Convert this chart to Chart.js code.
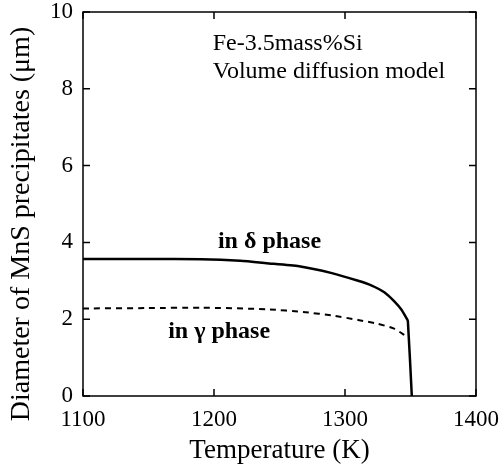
<!DOCTYPE html>
<html>
<head>
<meta charset="utf-8">
<script src="https://cdn.jsdelivr.net/npm/chart.js@4.4.0/dist/chart.umd.min.js"></script>
<style>
  html, body { margin: 0; padding: 0; background: #fff; }
  #wrap { width: 504px; height: 466px; }
</style>
</head>
<body>
<div id="wrap"><canvas id="mns"></canvas></div>
<script>
// temperatures (K) and diameters (um)
const deltaTemp = [1100, 1150, 1190, 1220, 1240, 1265, 1290, 1310, 1320, 1330, 1338, 1343, 1347, 1348, 1351];
const deltaDiam = [3.57, 3.57, 3.56, 3.52, 3.46, 3.38, 3.2, 3.0, 2.88, 2.7, 2.45, 2.25, 2.02, 1.95, 0];
const gammaTemp = [1100, 1150, 1190, 1240, 1270, 1290, 1310, 1325, 1337, 1344, 1348];
const gammaDiam = [2.28, 2.29, 2.3, 2.26, 2.18, 2.1, 1.98, 1.88, 1.76, 1.62, 1.52];
const xTicks = [1100, 1200, 1300, 1400];
const yTicks = [0, 2, 4, 6, 8, 10];

const serif = '"Liberation Serif", "DejaVu Serif", serif';

const toPoints = (xs, ys) => xs.map((x, i) => ({ x: x, y: ys[i] }));

// box + inward ticks on all four sides, annotations, y title
const frame = {
    id: 'frame',
    afterDraw(chart) {
        const { ctx, chartArea: a, scales: { x, y } } = chart;
        ctx.save();
        ctx.strokeStyle = '#000';
        ctx.lineWidth = 1.5;
        ctx.strokeRect(a.left, a.top, a.right - a.left, a.bottom - a.top);
        ctx.beginPath();
        xTicks.forEach(v => {
            const px = x.getPixelForValue(v);
            ctx.moveTo(px, a.bottom); ctx.lineTo(px, a.bottom - 7);
            ctx.moveTo(px, a.top); ctx.lineTo(px, a.top + 7);
        });
        yTicks.forEach(v => {
            const py = y.getPixelForValue(v);
            ctx.moveTo(a.left, py); ctx.lineTo(a.left + 7, py);
            ctx.moveTo(a.right, py); ctx.lineTo(a.right - 7, py);
        });
        ctx.stroke();

        ctx.fillStyle = '#000';
        ctx.textBaseline = 'middle';
        ctx.textAlign = 'left';
        ctx.font = '24px ' + serif;
        ctx.fillText('Fe-3.5mass%Si', x.getPixelForValue(1199), y.getPixelForValue(9.17));
        ctx.fillText('Volume diffusion model', x.getPixelForValue(1199), y.getPixelForValue(8.44));
        ctx.font = 'bold 24px ' + serif;
        ctx.fillText('in \u03b4 phase', x.getPixelForValue(1203), y.getPixelForValue(4.02));
        ctx.fillText('in \u03b3 phase', x.getPixelForValue(1165), y.getPixelForValue(1.67));

        // y axis title, sits a little below the plot's middle in the original
        ctx.translate(22, (a.top + a.bottom) / 2 + 20);
        ctx.rotate(-Math.PI / 2);
        ctx.textAlign = 'center';
        ctx.font = '28px ' + serif;
        ctx.fillText('Diameter of MnS precipitates (\u03bcm)', 0, 0);
        ctx.restore();
    }
};

new Chart(document.getElementById('mns'), {
    type: 'scatter',
    data: {
        datasets: [{
            label: 'in delta phase',
            data: toPoints(deltaTemp, deltaDiam),
            showLine: true,
            borderColor: '#000',
            borderWidth: 2.5,
            pointRadius: 0,
            tension: 0.2
        }, {
            label: 'in gamma phase',
            data: toPoints(gammaTemp, gammaDiam),
            showLine: true,
            borderColor: '#000',
            borderWidth: 2,
            borderDash: [6, 5],
            pointRadius: 0,
            tension: 0.2
        }]
    },
    options: {
        responsive: true,
        maintainAspectRatio: false,
        animation: false,
        layout: { padding: { top: 12, right: 28, left: 0, bottom: 0 } },
        plugins: { legend: { display: false }, tooltip: { enabled: false } },
        scales: {
            x: {
                type: 'linear',
                min: 1100,
                max: 1400,
                afterFit(s) {
                    s.height = 70;
                    s.paddingLeft = 0;
                    s.paddingRight = 0;
                },
                afterBuildTicks(s) { s.ticks = xTicks.map(v => ({ value: v })); },
                grid: { display: false, drawTicks: false },
                border: { display: false },
                ticks: {
                    color: '#000', padding: 10, font: { family: serif, size: 23 },
                    callback: v => String(v)
                },
                title: {
                    display: true,
                    text: 'Temperature (K)',
                    color: '#000',
                    padding: { top: 0, bottom: -1 },
                    font: { family: serif, size: 27 }
                }
            },
            y: {
                min: 0,
                max: 10,
                afterFit(s) {
                    s.width = 83;
                    s.paddingTop = 0;
                    s.paddingBottom = 0;
                },
                afterBuildTicks(s) { s.ticks = yTicks.map(v => ({ value: v })); },
                grid: { display: false, drawTicks: false },
                border: { display: false },
                ticks: {
                    color: '#000', padding: 10, font: { family: serif, size: 23 },
                    callback: v => String(v)
                },
                title: { display: false }
            }
        }
    },
    plugins: [frame]
});
</script>
</body>
</html>
